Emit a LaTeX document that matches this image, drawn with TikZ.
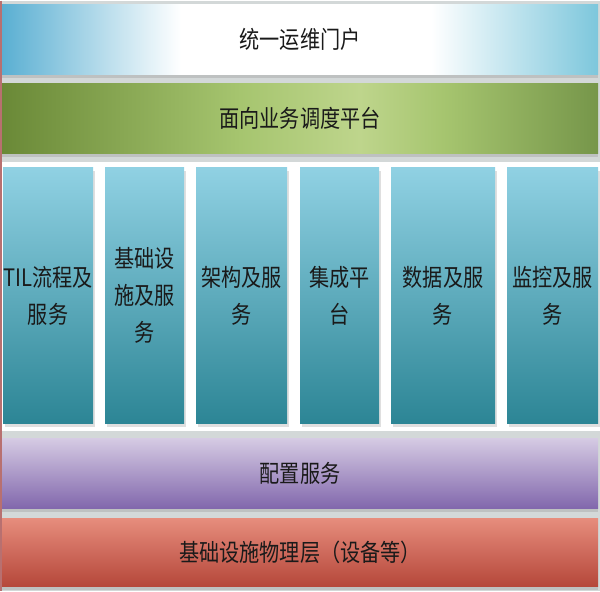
\documentclass[tikz,border=0pt]{standalone}
\usepackage{fontspec}
\newfontfamily\cjk[FakeStretch=0.84]{Noto Sans CJK SC}
\usetikzlibrary{shadows}

\definecolor{bggray}{HTML}{D3D8D8}
\definecolor{textgray}{HTML}{1A1A1A}
\definecolor{edgered}{HTML}{B87070}
\definecolor{portalL}{HTML}{5AAFD2}
\definecolor{portalR}{HTML}{7DC7DC}
\definecolor{greenD}{HTML}{6A8937}
\definecolor{greenM}{HTML}{A6C56F}
\definecolor{greenL}{HTML}{BED58C}
\definecolor{greenR}{HTML}{76964A}
\definecolor{pillarT}{HTML}{90D1E3}
\definecolor{pillarB}{HTML}{2C8595}
\definecolor{purpleT}{HTML}{D5CAE3}
\definecolor{purpleB}{HTML}{8167AC}
\definecolor{redT}{HTML}{E68C7C}
\definecolor{redB}{HTML}{B5473A}

\pgfdeclarehorizontalshading{portalshade}{100bp}{color(0bp)=(portalL); color(25bp)=(portalL); color(40bp)=(white); color(61bp)=(white); color(75bp)=(portalR); color(100bp)=(portalR)}
\pgfdeclarehorizontalshading{greenshade}{100bp}{color(0bp)=(greenD); color(25bp)=(greenD); color(45bp)=(greenM); color(55bp)=(greenL); color(62bp)=(greenM); color(75bp)=(greenR); color(100bp)=(greenR)}

\begin{document}
\begin{tikzpicture}
[
    x=1pt, y=-1pt,
    band/.style={rectangle, inner sep=0pt, minimum width=596pt, minimum height=70pt,
        font=\cjk\fontsize{24}{30}\selectfont, text=textgray,
        drop shadow={shadow xshift=0pt, shadow yshift=-3pt, opacity=.25}},
    pillar/.style={rectangle, inner sep=0pt, minimum height=256pt,
        top color=pillarT, bottom color=pillarB, align=center,
        font=\cjk\fontsize{24}{37}\selectfont, text=textgray,
        drop shadow={shadow xshift=2pt, shadow yshift=-3pt, opacity=.25}},
]
% background
\fill[bggray] (0,0) rectangle (600,590);
\fill[white] (0,161) rectangle (600,430);
\draw[edgered, line width=1.5pt] (0.75,0) -- (0.75,590);

% horizontal layers
\node[band, shading=portalshade] (portal) at (300,39) {统一运维门户};
\node[band, shading=greenshade] (sched) at (300,118) {面向业务调度平台};

% service pillars
\node[pillar, minimum width=90pt] (itil) at (48,295) {TIL流程及\\服务};
\node[pillar, minimum width=79pt] (infra) at (144.5,295) {基础设\\施及服\\务};
\node[pillar, minimum width=91pt] (arch) at (241.5,295) {架构及服\\务};
\node[pillar, minimum width=79pt] (integ) at (339.5,295) {集成平\\台};
\node[pillar, minimum width=104pt] (data) at (443,295) {数据及服\\务};
\node[pillar, minimum width=91pt] (monit) at (552.5,295) {监控及服\\务};

\node[band, top color=purpleT, bottom color=purpleB] (config) at (300,473) {配置服务};
\node[band, minimum height=68pt, top color=redT, bottom color=redB] (phys) at (300,552) {基础设施物理层（设备等）};
\end{tikzpicture}
\end{document}
